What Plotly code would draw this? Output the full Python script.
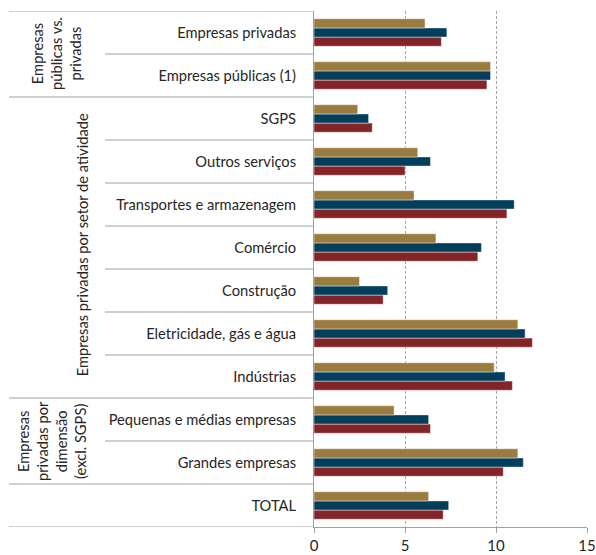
import plotly.graph_objects as go

# Categories listed bottom -> top
categories = [
    "TOTAL",
    "Grandes empresas",
    "Pequenas e médias empresas",
    "Indústrias",
    "Eletricidade, gás e água",
    "Construção",
    "Comércio",
    "Transportes e armazenagem",
    "Outros serviços",
    "SGPS",
    "Empresas públicas (1)",
    "Empresas privadas",
]
series_gold = [6.3, 11.2, 4.4, 9.9, 11.2, 2.5, 6.7, 5.5, 5.7, 2.4, 9.7, 6.1]
series_blue = [7.4, 11.5, 6.3, 10.5, 11.6, 4.05, 9.2, 11.0, 6.4, 3.0, 9.7, 7.3]
series_red = [7.1, 10.4, 6.4, 10.9, 12.0, 3.8, 9.0, 10.6, 5.0, 3.2, 9.5, 7.0]
x_ticks = [0, 5, 10, 15]

groups = [
    ("Empresas<br>privadas por<br>dimensão<br>(excl. SGPS)", 1.5, 51),
    ("Empresas privadas por setor de atividade", 6.05, 82),
    ("Empresas<br>públicas vs.<br>privadas", 10.5, 56),
]
group_bounds = [-0.5, 0.5, 2.5, 9.5, 11.5]
row_bounds = [1.5, 3.5, 4.5, 5.5, 6.5, 7.5, 8.5, 10.5]

W, H = 596, 555
L, R, T, B = 314, 9, 11, 28
pw = W - L - R

FONT = "Lato, Open Sans, sans-serif"
FS = 14.7
TXT = "#262626"
LINE = "#a0a0a0"

fig = go.Figure()
for name, vals, col in [("red", series_red, "#832428"),
                        ("blue", series_blue, "#033f5c"),
                        ("gold", series_gold, "#9a7c40")]:
    fig.add_trace(go.Bar(
        y=categories, x=vals, orientation="h", name=name,
        marker=dict(color=col, line=dict(color="rgba(255,255,255,0.55)", width=0.8)),
        showlegend=False,
    ))

shapes = []
for b in group_bounds:
    shapes.append(dict(type="line", xref="paper", yref="y",
                       x0=(9 - L) / pw, x1=0, y0=b, y1=b,
                       line=dict(color=LINE, width=1)))
for b in row_bounds:
    shapes.append(dict(type="line", xref="paper", yref="y",
                       x0=(105 - L) / pw, x1=0, y0=b, y1=b,
                       line=dict(color=LINE, width=1)))

annotations = []
for text, yc, xc in groups:
    annotations.append(dict(text=text, xref="paper", yref="y",
                            x=(xc - L) / pw, y=yc, textangle=-90,
                            showarrow=False, align="center",
                            xanchor="center", yanchor="middle",
                            font=dict(family=FONT, size=FS, color=TXT)))

fig.update_layout(
    width=W, height=H,
    margin=dict(l=L, r=R, t=T, b=B, pad=0, autoexpand=False),
    paper_bgcolor="white", plot_bgcolor="white",
    barmode="group", bargap=0.36, bargroupgap=0,
    shapes=shapes, annotations=annotations,
    font=dict(family=FONT, size=FS, color=TXT),
    xaxis=dict(range=[0, 15], tickvals=x_ticks, showgrid=True,
               gridcolor="#a6a6a6", griddash="3px,2px", gridwidth=1,
               zeroline=False, showline=True, linecolor=LINE, linewidth=1,
               ticks="outside", ticklen=5, tickcolor=LINE, automargin=False,
               tickfont=dict(family=FONT, size=15, color=TXT)),
    yaxis=dict(categoryorder="array", categoryarray=categories,
               range=[-0.5, 11.5], showgrid=False, zeroline=False,
               showline=True, linecolor=LINE, linewidth=1, ticks="",
               ticklabelstandoff=14, automargin=False,
               tickfont=dict(family=FONT, size=FS, color=TXT)),
)

fig.write_html("out.html")
